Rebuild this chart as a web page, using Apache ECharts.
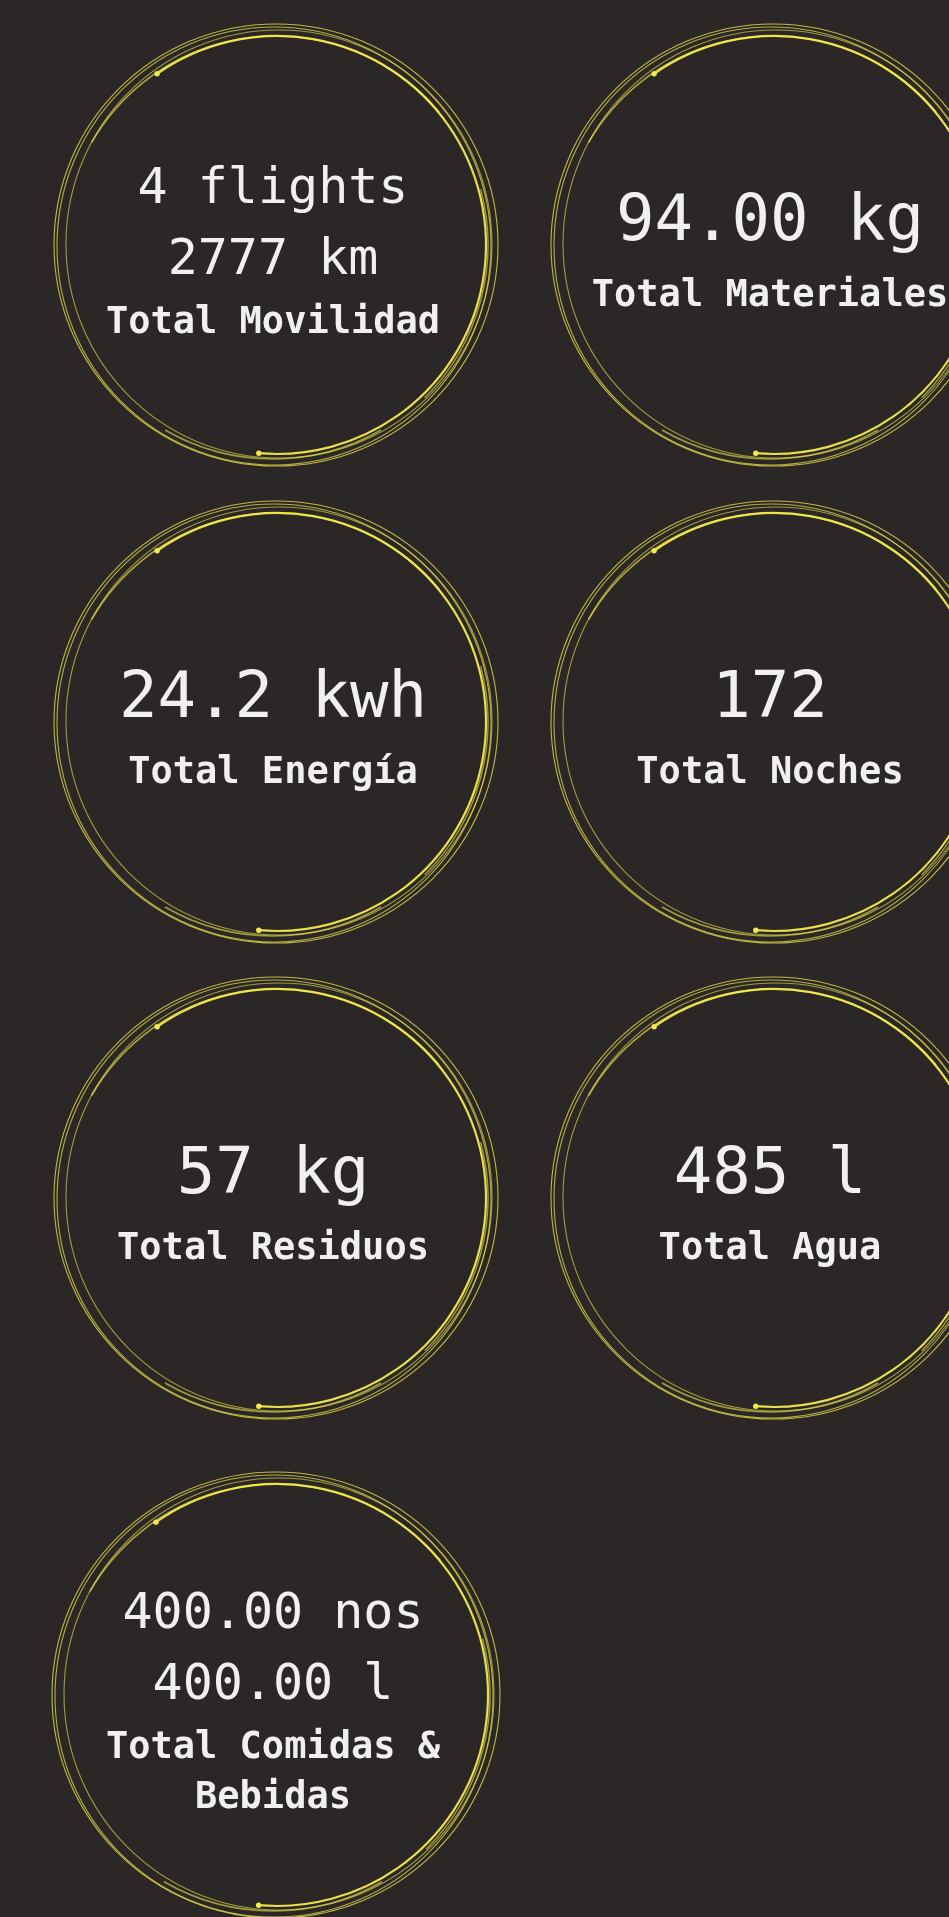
<!DOCTYPE html>
<html>
<head>
<meta charset="utf-8">
<title>Totales</title>
<script src="https://cdn.jsdelivr.net/npm/echarts@6/dist/echarts.min.js"></script>
<style>
  html, body { margin: 0; padding: 0; background: #2b2727; overflow: hidden; }
  #chart { width: 949px; height: 1917px; }
</style>
</head>
<body>
<div id="chart"></div>
<script>
// one card per circle, read left-to-right, top-to-bottom
const amounts = [['4', '2777'], ['94.00'], ['24.2'], ['172'], ['57'], ['485'], ['400.00', '400.00']];
const units = [['flights', 'km'], ['kg'], ['kwh'], [''], ['kg'], ['l'], ['nos', 'l']];
const labels = [
  ['Total Movilidad'],
  ['Total Materiales'],
  ['Total Energía'],
  ['Total Noches'],
  ['Total Residuos'],
  ['Total Agua'],
  ['Total Comidas &', 'Bebidas']
];

const colX = [276, 773];
const rowY = [245, 722, 1198, 1695];
const yellow = '#f2e94b';
const white = '#f1efef';
const mono = '"DejaVu Sans Mono", "Liberation Mono", monospace';

const chart = echarts.init(document.getElementById('chart'));

const deg = (d) => (d * Math.PI) / 180;

// hand drawn look: a few loose rings plus one bright stroke with dots at its ends
function sketchCircle(cx, cy, r) {
  const els = [];
  const rings = [
    { dx: 0, dy: 0, rx: r, ry: r - 1, o: 0.75 },
    { dx: -2, dy: 1, rx: r - 5, ry: r - 3, o: 0.7 },
    { dx: 3, dy: -1, rx: r - 9, ry: r - 8, o: 0.6 }
  ];
  rings.forEach((g) => {
    els.push({
      type: 'ellipse',
      shape: { cx: cx + g.dx, cy: cy + g.dy, rx: g.rx, ry: g.ry },
      style: { fill: null, stroke: yellow, lineWidth: 1.1, opacity: g.o },
      silent: true
    });
  });
  const ar = r - 13;
  const a0 = deg(-125), a1 = deg(95);
  els.push({
    type: 'arc',
    shape: { cx: cx + 1, cy: cy, r: ar, startAngle: a0, endAngle: a1, clockwise: true },
    style: { fill: null, stroke: yellow, lineWidth: 2.2, opacity: 0.95 },
    silent: true
  });
  // extra partial strokes where the pen went over twice
  els.push({
    type: 'arc',
    shape: { cx: cx, cy: cy + 4, r: r - 9, startAngle: deg(-150), endAngle: deg(-40), clockwise: true },
    style: { fill: null, stroke: yellow, lineWidth: 1.6, opacity: 0.65 },
    silent: true
  });
  els.push({
    type: 'arc',
    shape: { cx: cx - 4, cy: cy, r: r - 6, startAngle: deg(-15), endAngle: deg(45), clockwise: true },
    style: { fill: null, stroke: yellow, lineWidth: 1.4, opacity: 0.6 },
    silent: true
  });
  els.push({
    type: 'arc',
    shape: { cx: cx - 3, cy: cy - 2, r: r - 6, startAngle: deg(60), endAngle: deg(120), clockwise: true },
    style: { fill: null, stroke: yellow, lineWidth: 1.6, opacity: 0.6 },
    silent: true
  });
  [a0, a1].forEach((a) => {
    els.push({
      type: 'circle',
      shape: { cx: cx + 1 + ar * Math.cos(a), cy: cy + ar * Math.sin(a), r: 2.7 },
      style: { fill: yellow },
      silent: true
    });
  });
  return els;
}

function cardText(cx, cy, vals, lbls) {
  const size = vals.length > 1 ? 50 : 64;
  const lines = [];
  let b = 0;
  vals.forEach((v, i) => {
    if (i > 0) b += 71;
    lines.push({ text: v, base: b, font: '500 ' + size + 'px ' + mono, size: size });
  });
  lbls.forEach((l, i) => {
    b += i === 0 ? (vals.length > 1 ? 58 : 63) : 50;
    lines.push({ text: l, base: b, font: 'bold 37px ' + mono, size: 37 });
  });
  const top = -0.73 * size;
  const shift = cy + 9 - (top + b) / 2;
  return lines.map((ln) => ({
    type: 'text',
    style: {
      text: ln.text,
      x: cx - 3,
      y: shift + ln.base - 0.35 * ln.size,
      fill: white,
      font: ln.font,
      textAlign: 'center',
      textVerticalAlign: 'middle',
      align: 'center',
      verticalAlign: 'middle'
    },
    silent: true
  }));
}

const graphic = [];
amounts.forEach((amt, i) => {
  const cx = colX[i % 2];
  const cy = rowY[Math.floor(i / 2)];
  const r = i === amounts.length - 1 ? 224 : 222;
  const vals = amt.map((a, j) => (units[i][j] ? a + ' ' + units[i][j] : a));
  graphic.push(...sketchCircle(cx, cy, r));
  graphic.push(...cardText(cx, cy, vals, labels[i]));
});

chart.setOption({
  backgroundColor: '#2b2727',
  animation: false,
  graphic: graphic
});

window.onresize = function () {
  chart && chart.resize();
};
</script>
</body>
</html>
